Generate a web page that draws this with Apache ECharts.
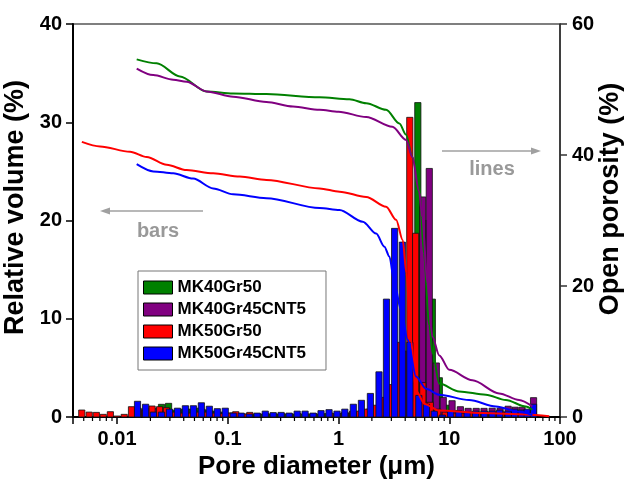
<!DOCTYPE html>
<html>
<head>
<meta charset="utf-8">
<script src="https://cdn.jsdelivr.net/npm/echarts@6/dist/echarts.min.js"></script>
<style>
html,body{margin:0;padding:0;background:#fff;overflow:hidden;}
#chart{width:627px;height:485px;}
</style>
</head>
<body>
<div id="chart"></div>
<script>
// ---- data (x = pore diameter in µm, y = value) ----
const seriesNames = ['MK40Gr50', 'MK40Gr45CNT5', 'MK50Gr50', 'MK50Gr45CNT5'];
const seriesColors = ['#008000', '#800080', '#ff0000', '#0000ff'];
const xTickLabels = ['0.01', '0.1', '1', '10', '100'];
const xMinorTicks = [0.005,0.006,0.007,0.008,0.009,0.02,0.03,0.04,0.05,0.06,0.07,0.08,0.09,
  0.2,0.3,0.4,0.5,0.6,0.7,0.8,0.9,2,3,4,5,6,7,8,9,20,30,40,50,60,70,80,90];

// Relative volume (%) bars
const greenBars = [[0.0155,0.9],[0.0183,0.9],[0.0216,0.9],[0.0252,1.29],[0.0292,1.39],[0.0339,0.7],[0.0402,0.8],[0.0472,0.8],[0.0558,0.9],[0.066,0.7],[0.078,0.6],[0.0921,0.5],[0.109,0.4],[0.128,0.35],[0.152,0.3],[0.179,0.3],[0.211,0.3],[0.249,0.3],[0.294,0.3],[0.347,0.3],[0.41,0.3],[0.484,0.3],[0.571,0.3],[0.674,0.3],[0.796,0.35],[0.94,0.35],[1.11,0.4],[1.31,0.4],[1.55,0.5],[1.83,0.5],[2.15,0.6],[2.54,0.8],[3.0,1.2],[3.54,2.0],[4.18,4.0],[5.2,32.0],[5.95,20.0],[7.03,12.0],[8.13,4.0],[9.4,1.2],[11.1,0.6],[13.1,0.5],[15.5,0.5],[18.3,0.5],[21.6,0.5],[25.5,0.5],[30.1,0.5],[35.5,0.6],[41.9,0.6],[49.5,0.6],[57.5,0.8]];
const purpleBars = [[0.0155,0.6],[0.0183,0.7],[0.0216,0.8],[0.0255,0.7],[0.0300,0.6],[0.0355,0.7],[0.0419,0.8],[0.0495,0.7],[0.0585,0.8],[0.069,0.6],[0.0815,0.5],[0.0962,0.4],[0.114,0.3],[0.134,0.3],[0.158,0.3],[0.187,0.3],[0.22,0.3],[0.26,0.3],[0.307,0.3],[0.362,0.3],[0.427,0.3],[0.505,0.3],[0.595,0.3],[0.703,0.3],[0.83,0.3],[0.98,0.3],[1.16,0.4],[1.36,0.5],[1.61,0.6],[1.9,0.8],[2.24,1.0],[2.65,1.3],[3.13,1.6],[3.62,2.5],[4.18,6.7],[4.74,10.0],[5.75,22.4],[6.6,25.3],[7.64,5.5],[8.83,2.0],[10.6,1.66],[12.6,1.05],[14.8,0.88],[17.5,0.88],[20.6,0.88],[24.4,0.9],[28.8,0.9],[34.0,1.1],[39.3,1.0],[45.4,1.0],[57.7,1.97]];
const redBars = [[0.0048,0.71],[0.0056,0.5],[0.0065,0.47],[0.0075,0.27],[0.0087,0.54],[0.0100,0.1],[0.0116,0.27],[0.0135,1.05],[0.0155,0.8],[0.0178,0.7],[0.0207,1.12],[0.0242,1.05],[0.0279,0.95],[0.0326,0.5],[0.0385,0.4],[0.0455,0.4],[0.0537,0.5],[0.0634,0.5],[0.0748,0.4],[0.0883,0.35],[0.104,0.4],[0.118,0.54],[0.139,0.3],[0.158,0.47],[0.186,0.3],[0.220,0.35],[0.260,0.3],[0.306,0.35],[0.362,0.3],[0.428,0.35],[0.505,0.3],[0.596,0.35],[0.703,0.3],[0.838,0.4],[0.980,0.35],[1.14,0.5],[1.34,0.6],[1.55,0.6],[1.79,0.8],[2.11,1.2],[2.46,2.0],[2.88,3.3],[3.55,7.6],[4.4,30.5],[4.97,18.7],[5.77,3.5],[6.74,1.5],[7.88,0.8],[9.2,0.5],[10.9,0.4],[12.8,0.4],[15.1,0.5],[17.9,0.4],[21.1,0.5],[24.9,0.4],[29.4,0.5],[34.7,0.4],[41.0,0.4],[48.4,0.5],[57.1,0.6]];
const blueBars = [[0.0153,1.6],[0.0181,1.3],[0.0213,0.5],[0.0252,0.5],[0.0297,0.8],[0.0351,0.9],[0.0414,1.15],[0.0489,1.15],[0.0577,1.45],[0.0681,1.1],[0.0804,0.85],[0.0949,0.9],[0.112,0.4],[0.132,0.4],[0.156,0.3],[0.184,0.4],[0.218,0.6],[0.257,0.45],[0.303,0.47],[0.358,0.4],[0.423,0.6],[0.499,0.6],[0.589,0.4],[0.695,0.65],[0.821,0.75],[0.969,0.6],[1.14,0.8],[1.36,1.3],[1.61,1.7],[1.94,2.4],[2.32,4.6],[2.71,12.0],[3.21,19.2],[3.77,17.8],[4.41,7.6],[5.31,2.2],[6.23,1.3],[7.33,0.6],[8.65,0.2],[10.3,0.6],[12.2,0.65],[14.5,0.45],[17.3,0.6],[20.7,0.6],[24.4,0.6],[28.5,0.7],[34.0,0.6],[38.9,0.8],[45.0,0.7],[50.5,0.8],[57.7,1.3]];

// Open porosity (%) lines
const greenLine = [[0.01504,54.6],[0.0228,54.0],[0.03698,52.0],[0.06427,49.7],[0.1117,49.4],[0.2233,49.3],[0.6745,48.8],[1.256,48.5],[1.778,47.9],[2.69,46.9],[3.545,44.8],[4.073,43.1],[4.64,39.7],[5.37,35.2],[5.9,25.0],[6.6,14.0],[7.08,9.7],[8.13,5.1],[12.3,3.9],[21.4,3.4],[32.4,2.6],[49.1,1.6],[56.3,1.1]];
const purpleLine = [[0.01504,53.2],[0.02124,52.2],[0.03215,51.5],[0.04249,51.2],[0.06427,49.7],[0.1117,48.9],[0.2233,48.1],[0.3878,47.4],[0.6745,46.9],[1.0,46.6],[1.778,45.8],[3.065,44.3],[4.073,42.3],[4.64,39.7],[5.33,34.5],[5.71,30.5],[6.34,20.4],[7.03,12.3],[8.13,9.4],[10.0,7.2],[16.2,5.6],[28.2,3.6],[42.7,2.6],[56.3,1.6]];
const redLine = [[0.00481,42.0],[0.00703,41.3],[0.0131,40.5],[0.01853,39.7],[0.02806,38.5],[0.04249,37.7],[0.07379,37.2],[0.1283,36.7],[0.2233,36.2],[0.6745,34.9],[1.021,34.4],[1.778,33.6],[2.69,32.1],[3.31,30.1],[3.8,27.0],[4.1,22.0],[4.5,12.0],[5.0,4.0],[6.0,2.0],[8.0,1.0],[20.0,0.6],[50.0,0.4],[80.0,0.1]];
const blueLine = [[0.01504,38.6],[0.02124,37.5],[0.03215,37.2],[0.04868,36.4],[0.07379,34.9],[0.1117,34.0],[0.2233,33.4],[0.6745,31.9],[1.021,31.6],[1.655,29.8],[2.186,28.0],[2.596,26.0],[2.88,24.5],[3.197,20.4],[3.673,16.3],[4.21,11.8],[5.01,6.2],[6.17,4.3],[8.13,3.4],[15.1,2.6],[26.4,1.6],[42.7,0.8],[56.3,0.3]];

const barSets = [greenBars, purpleBars, redBars, blueBars];
const lineSets = [greenLine, purpleLine, redLine, blueLine];

// ---- chart ----
const FONT = '"Liberation Sans", Arial, sans-serif';
const chart = echarts.init(document.getElementById('chart'), null, {renderer: 'canvas'});

function barRender(params, api) {
  const x = api.value(0), y = api.value(1);
  const top = api.coord([x, y]);
  const base = api.coord([x, 0]);
  const w = 6.2;
  return {
    type: 'rect',
    shape: {x: top[0] - w / 2, y: top[1], width: w, height: base[1] - top[1]},
    style: {fill: api.visual('color'), stroke: '#111', lineWidth: 0.8}
  };
}

const series = [];
barSets.forEach((d, i) => {
  series.push({
    name: seriesNames[i], type: 'custom', xAxisIndex: 0, yAxisIndex: 0,
    renderItem: barRender, data: d, encode: {x: 0, y: 1},
    itemStyle: {color: seriesColors[i]}, z: 2
  });
});
lineSets.forEach((d, i) => {
  series.push({
    name: seriesNames[i] + ' porosity', type: 'line', xAxisIndex: 0, yAxisIndex: 1,
    data: d, showSymbol: false, symbol: 'none', smooth: 0.3, smoothMonotone: 'x',
    lineStyle: {color: seriesColors[i], width: 2}, itemStyle: {color: seriesColors[i]}, z: 3
  });
});
// minor log ticks on the x axis
series.push({
  name: 'minorTicks', type: 'custom', xAxisIndex: 0, yAxisIndex: 0, silent: true, clip: false,
  data: xMinorTicks.map(v => [v, 0]), encode: {x: 0, y: 1},
  renderItem: function (params, api) {
    const p = api.coord([api.value(0), 0]);
    return {type: 'line', shape: {x1: p[0], y1: p[1], x2: p[0], y2: p[1] + 4},
      style: {stroke: '#000', lineWidth: 1.2}};
  }, z: 5
});

const option = {
  backgroundColor: '#fff',
  animation: false,
  grid: {left: 73, right: 67, top: 24, bottom: 68, show: true, borderColor: '#000', borderWidth: 1.2,
    backgroundColor: 'transparent', containLabel: false, outerBoundsMode: 'none'},
  legend: {
    data: seriesNames.map(n => ({name: n, icon: 'rect'})),
    orient: 'vertical', left: 138, top: 271,
    itemWidth: 29, itemHeight: 13, itemGap: 5,
    itemStyle: {borderColor: '#000', borderWidth: 1},
    textStyle: {fontFamily: FONT, fontWeight: 'bold', fontSize: 17, color: '#000'},
    backgroundColor: '#fff', borderColor: '#777', borderWidth: 1, padding: [8, 20, 8, 5],
    selectedMode: false
  },
  xAxis: {
    type: 'log', logBase: 10, min: 0.004, max: 100,
    name: 'Pore diameter (\u03bcm)', nameLocation: 'middle', nameGap: 37,
    nameTextStyle: {fontFamily: FONT, fontWeight: 'bold', fontSize: 26, color: '#000'},
    axisLine: {show: true, onZero: false, lineStyle: {color: '#000', width: 2}},
    axisTick: {show: true, inside: false, length: 7, lineStyle: {width: 1.5}},
    axisLabel: {
      fontFamily: FONT, fontWeight: 'bold', fontSize: 20, color: '#000', margin: 12,
      formatter: function (v) {
        const l = Math.round(Math.log10(v));
        if (Math.abs(Math.log10(v) - l) > 1e-6) return '';
        const idx = l + 2;
        return (idx >= 0 && idx < xTickLabels.length) ? xTickLabels[idx] : '';
      }
    },
    splitLine: {show: false}
  },
  yAxis: [{
    type: 'value', min: 0, max: 40, interval: 10, position: 'left',
    name: 'Relative volume (%)', nameLocation: 'middle', nameGap: 34, nameRotate: 90,
    nameTextStyle: {fontFamily: FONT, fontWeight: 'bold', fontSize: 27, color: '#000', padding: [0, 0, 0, 26]},
    axisLine: {show: true, lineStyle: {color: '#000', width: 2}},
    axisTick: {show: true, length: 7, lineStyle: {width: 1.5}},
    axisLabel: {fontFamily: FONT, fontWeight: 'bold', fontSize: 20, color: '#000', margin: 11},
    splitLine: {show: false}
  }, {
    type: 'value', min: 0, max: 60, interval: 20, position: 'right',
    axisLine: {show: true, lineStyle: {color: '#333', width: 1.5}},
    axisTick: {show: true, length: 7, lineStyle: {width: 1.5}},
    axisLabel: {fontFamily: FONT, fontWeight: 'bold', fontSize: 20, color: '#000', margin: 12},
    splitLine: {show: false}
  }],
  graphic: [
    {type: 'text', x: 611, y: 199, rotation: Math.PI / 2,
      style: {text: 'Open porosity (%)', fontFamily: FONT, fontWeight: 'bold', fontSize: 27, fill: '#000', align: 'center', verticalAlign: 'middle'}, z: 10},
    {type: 'line', shape: {x1: 203, y1: 211, x2: 106, y2: 211}, style: {stroke: '#a0a0a0', lineWidth: 1.5}, z: 10},
    {type: 'polygon', shape: {points: [[100, 211], [110, 207.5], [110, 214.5]]}, style: {fill: '#a0a0a0'}, z: 10},
    {type: 'text', x: 158, y: 231, style: {text: 'bars', fontFamily: FONT, fontWeight: 'bold', fontSize: 20, fill: '#999', align: 'center', verticalAlign: 'middle'}, z: 10},
    {type: 'line', shape: {x1: 442, y1: 151, x2: 535, y2: 151}, style: {stroke: '#a0a0a0', lineWidth: 1.5}, z: 10},
    {type: 'polygon', shape: {points: [[541, 151], [531, 147.5], [531, 154.5]]}, style: {fill: '#a0a0a0'}, z: 10},
    {type: 'text', x: 492, y: 169, style: {text: 'lines', fontFamily: FONT, fontWeight: 'bold', fontSize: 20, fill: '#999', align: 'center', verticalAlign: 'middle'}, z: 10}
  ],
  series: series
};
chart.setOption(option);
</script>
</body>
</html>
